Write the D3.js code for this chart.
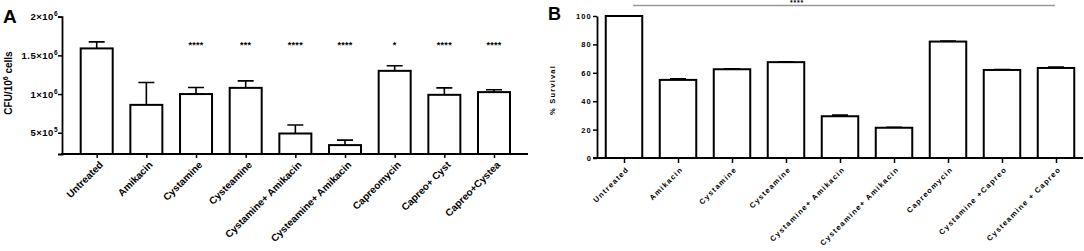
<!DOCTYPE html>
<html>
<head>
<meta charset="utf-8">
<script src="https://cdn.jsdelivr.net/npm/d3@7"></script>
<style>
  body { margin: 0; background: #fff; }
  svg { font-family: "Liberation Sans", Arial, sans-serif; font-weight: bold; }
</style>
</head>
<body>
<div id="chart"></div>
<script>
// panel A : CFU per 10^6 cells
const catsA = ["Untreated", "Amikacin", "Cystamine", "Cysteamine", "Cystamine+ Amikacin",
  "Cysteamine+ Amikacin", "Capreomycin", "Capreo+ Cyst", "Capreo+Cystea"];
const cfuMean = [1.59e6, 0.86e6, 1.0e6, 1.08e6, 0.49e6, 0.34e6, 1.30e6, 0.99e6, 1.025e6];
const cfuErr = [0.085e6, 0.29e6, 0.085e6, 0.09e6, 0.11e6, 0.065e6, 0.065e6, 0.09e6, 0.03e6];
const sigA = ["", "", "****", "***", "****", "****", "*", "****", "****"];
const ticksA = [[5, 5], [1, 6], [1.5, 6], [2, 6]];

// panel B : % survival
const catsB = ["Untreated", "Amikacin", "Cystamine", "Cysteamine", "Cystamine+ Amikacin",
  "Cysteamine+ Amikacin", "Capreomycin", "Cystamine +Capreo", "Cysteamine + Capreo"];
const survMean = [100, 55, 62.5, 67.5, 29.4, 21.3, 82, 62, 63.4];
const survErr = [0, 0.8, 0.3, 0.3, 0.8, 0.3, 0.3, 0.3, 0.7];
const ticksB = [0, 20, 40, 60, 80, 100];

const svg = d3.select("#chart").append("svg")
  .attr("width", 1084)
  .attr("height", 251);

// ---------- panel A ----------
const gA = svg.append("g");
const xA = d3.scalePoint().domain(catsA).range([96.7, 494]);
const yA = d3.scaleLinear().domain([2.25e5, 2e6]).range([154, 16.7]);
const barWA = 32;

gA.append("text").attr("x", 3).attr("y", 23).attr("font-size", 19).text("A");

const yAxisA = gA.append("g")
  .attr("transform", "translate(62,0)")
  .call(d3.axisLeft(yA).tickValues(ticksA.map(t => t[0] * Math.pow(10, t[1])))
    .tickSizeOuter(0).tickSize(4));
yAxisA.select(".domain").attr("stroke-width", 1.8);
yAxisA.selectAll(".tick line").attr("stroke-width", 1.5);
yAxisA.selectAll(".tick text")
  .attr("font-size", 9.5).attr("font-weight", "bold").attr("fill", "#000")
  .attr("font-family", "Liberation Sans, Arial, sans-serif")
  .attr("letter-spacing", 0.5)
  .attr("x", -4)
  .each(function(d, i) {
    const t = d3.select(this).text("");
    t.append("tspan").text(ticksA[i][0] + "×10");
    t.append("tspan").attr("dy", -4).attr("font-size", 6.5).text(ticksA[i][1]);
  });

const xAxisA = gA.append("g")
  .attr("transform", "translate(0,154)")
  .call(d3.axisBottom(xA).tickSize(4).tickSizeOuter(0));
xAxisA.select(".domain").remove();
xAxisA.selectAll(".tick line").attr("stroke-width", 1.5);
xAxisA.selectAll(".tick text")
  .attr("font-size", 10).attr("font-weight", "bold").attr("fill", "#000")
  .attr("font-family", "Liberation Sans, Arial, sans-serif")
  .attr("text-anchor", "end")
  .attr("transform", "translate(4,9) rotate(-45)")
  .attr("dy", "0.35em").attr("y", 0);
gA.append("line")
  .attr("x1", 61).attr("x2", 528).attr("y1", 154).attr("y2", 154)
  .attr("stroke", "#000").attr("stroke-width", 1.8);

gA.append("text")
  .attr("transform", "translate(12,83) rotate(-90)")
  .attr("text-anchor", "middle").attr("font-size", 10)
  .call(t => {
    t.append("tspan").text("CFU/10");
    t.append("tspan").attr("dy", -4).attr("font-size", 7).text("6");
    t.append("tspan").attr("dy", 4).text(" cells");
  });

gA.selectAll(".errA").data(catsA).enter().append("path")
  .attr("fill", "none").attr("stroke", "#000").attr("stroke-width", 1.6)
  .attr("d", (d, i) => {
    const cx = xA(d), top = yA(cfuMean[i] + cfuErr[i]);
    return `M${cx},${yA(cfuMean[i])}V${top}M${cx - 8},${top}H${cx + 8}`;
  });
gA.selectAll(".barA").data(catsA).enter().append("rect")
  .attr("x", d => xA(d) - barWA / 2)
  .attr("width", barWA)
  .attr("y", (d, i) => yA(cfuMean[i]))
  .attr("height", (d, i) => 154 - yA(cfuMean[i]))
  .attr("fill", "#fff").attr("stroke", "#000").attr("stroke-width", 2);
gA.selectAll(".sigA").data(catsA).enter().append("text")
  .attr("x", d => xA(d)).attr("y", 48)
  .attr("text-anchor", "middle").attr("font-size", 9).attr("letter-spacing", 0.3)
  .text((d, i) => sigA[i]);

// ---------- panel B ----------
const gB = svg.append("g");
const xB = d3.scalePoint().domain(catsB).range([624, 1056]);
const yB = d3.scaleLinear().domain([0, 100]).range([158, 16]);
const barWB = 36.5;

gB.append("text").attr("x", 548).attr("y", 20).attr("font-size", 18).text("B");

const yAxisB = gB.append("g")
  .attr("transform", "translate(597,0)")
  .call(d3.axisLeft(yB).tickValues(ticksB).tickSize(4).tickSizeOuter(0));
yAxisB.select(".domain").attr("stroke-width", 1.8);
yAxisB.selectAll(".tick line").attr("stroke-width", 1.5);
yAxisB.selectAll(".tick text")
  .attr("font-size", 7.5).attr("font-weight", "bold").attr("fill", "#000")
  .attr("font-family", "Liberation Sans, Arial, sans-serif")
  .attr("letter-spacing", 1.2).attr("x", -5);

const xAxisB = gB.append("g")
  .attr("transform", "translate(0,158)")
  .call(d3.axisBottom(xB).tickSize(5).tickSizeOuter(0));
xAxisB.select(".domain").remove();
xAxisB.selectAll(".tick line").attr("stroke-width", 1.5);
xAxisB.selectAll(".tick text")
  .attr("font-size", 7.5).attr("font-weight", "bold").attr("fill", "#000")
  .attr("font-family", "Liberation Sans, Arial, sans-serif")
  .attr("letter-spacing", 1.3)
  .attr("text-anchor", "end")
  .attr("transform", "translate(3,10) rotate(-45)")
  .attr("dy", "0.35em").attr("y", 0);
gB.append("line")
  .attr("x1", 593).attr("x2", 1083).attr("y1", 158).attr("y2", 158)
  .attr("stroke", "#000").attr("stroke-width", 1.8);

gB.append("text")
  .attr("transform", "translate(555,90) rotate(-90)")
  .attr("text-anchor", "middle").attr("font-size", 7.5).attr("letter-spacing", 1.2)
  .text("% Survival");

gB.selectAll(".errB").data(catsB).enter().append("path")
  .attr("fill", "none").attr("stroke", "#000").attr("stroke-width", 1.6)
  .attr("d", (d, i) => {
    const cx = xB(d), top = yB(survMean[i] + survErr[i]);
    return `M${cx},${yB(survMean[i])}V${top}M${cx - 8},${top}H${cx + 8}`;
  });
gB.selectAll(".barB").data(catsB).enter().append("rect")
  .attr("x", d => xB(d) - barWB / 2)
  .attr("width", barWB)
  .attr("y", (d, i) => yB(survMean[i]))
  .attr("height", (d, i) => 158 - yB(survMean[i]))
  .attr("fill", "#fff").attr("stroke", "#000").attr("stroke-width", 2);

// overall significance line
gB.append("line")
  .attr("x1", 633).attr("x2", 1055).attr("y1", 5.5).attr("y2", 5.5)
  .attr("stroke", "#999").attr("stroke-width", 1.5);
gB.append("text")
  .attr("x", 797).attr("y", 4.5).attr("text-anchor", "middle")
  .attr("font-size", 7).attr("letter-spacing", 0.8).text("****");
</script>
</body>
</html>
